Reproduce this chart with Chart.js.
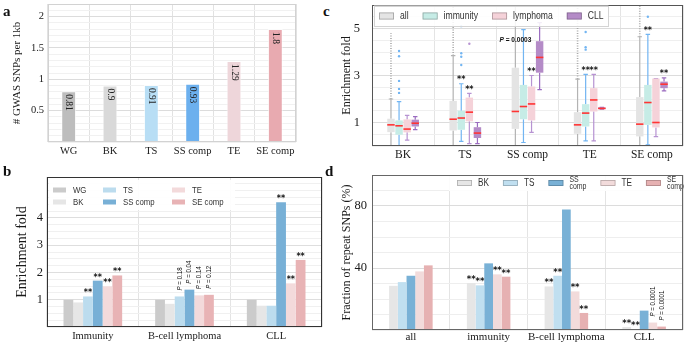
<!DOCTYPE html>
<html>
<head>
<meta charset="utf-8">
<script src="https://cdn.jsdelivr.net/npm/chart.js@4.4.1/dist/chart.umd.min.js"></script>
<style>
html,body{margin:0;padding:0;background:#fff;}
#wrap{position:relative;width:685px;height:343px;overflow:hidden;background:#fff;}
.pane{position:absolute;}
.tag{position:absolute;font-family:"Liberation Serif","Times New Roman",serif;font-weight:bold;font-size:15px;color:#111;line-height:1;}
</style>
</head>
<body>
<div id="wrap">
  <canvas id="ca" class="pane" width="300" height="165" style="left:0;top:0"></canvas>
  <canvas id="cb" class="pane" width="330" height="178" style="left:0;top:165px"></canvas>
  <canvas id="cc" class="pane" width="345" height="165" style="left:340px;top:0"></canvas>
  <canvas id="cd" class="pane" width="345" height="178" style="left:340px;top:165px"></canvas>
  <div class="tag" style="left:3px;top:4px">a</div>
  <div class="tag" style="left:3px;top:164px">b</div>
  <div class="tag" style="left:323px;top:4px">c</div>
  <div class="tag" style="left:325px;top:164px">d</div>
</div>
<script>
// ================= DATA =================
// Panel a
const aCategories = ['WG', 'BK', 'TS', 'SS comp', 'TE', 'SE comp'];
const aValues = [0.81, 0.9, 0.91, 0.93, 1.29, 1.8];
const aValueLabels = ['0.81', '0.9', '0.91', '0.93', '1.29', '1.8'];
const aTicks = [0.5, 1, 1.5, 2];

// Panel b
const bCategories = ['Immunity', 'B-cell lymphoma', 'CLL'];
const bSeries = ['WG', 'BK', 'TS', 'SS comp', 'TE', 'SE comp'];
const bWG = [1.0, 1.0, 1.0];
const bBK = [0.9, 0.85, 0.78];
const bTS = [1.12, 1.12, 0.78];
const bSS = [1.7, 1.37, 4.57];
const bTE = [1.49, 1.16, 1.6];
const bSE = [1.89, 1.18, 2.46];
const bNoteWG = ['', '', ''];
const bNoteBK = ['', '', ''];
const bNoteTS = ['**', 'P = 0.18', ''];
const bNoteSS = ['**', 'P = 0.04', '**'];
const bNoteTE = ['**', 'P = 0.14', '**'];
const bNoteSE = ['**', 'P = 0.12', '**'];
const bTicks = [1, 2, 3, 4];

// Panel c (box plots)
const cCategories = ['BK', 'TS', 'SS comp', 'TE', 'SE comp'];
const cGroups = ['all', 'immunity', 'lymphoma', 'CLL'];
const cAllQ1 = [0.59, 0.66, 0.73, 0.52, 0.41];
const cAllMed = [0.90, 1.14, 1.47, 0.90, 0.93];
const cAllQ3 = [1.16, 1.92, 3.33, 1.44, 2.08];
const cAllLow = [0, 0, 0, 0, 0];
const cAllHigh = [2.0, 3.85, 6.3, 2.85, 4.65];
const cAllOutTop = [4.8, 6.3, null, 6.3, 6.3];
const cAllOut = [[], [], [], [], []];
const cAllNote = ['', '', '', '', ''];
const cImmQ1 = [0.48, 0.69, 1.14, 0.83, 0.90];
const cImmMed = [0.86, 1.19, 1.68, 1.40, 1.85];
const cImmQ3 = [1.09, 1.50, 2.60, 1.78, 2.60];
const cImmLow = [0.0, 0.2, 0.15, 0.22, 0.05];
const cImmHigh = [1.89, 2.65, 4.95, 3.05, 4.75];
const cImmOut = [[2.26, 2.43, 2.77, 3.82, 4.04], [3.45, 3.8, 3.95, 5.1], [], [4.1, 4.2, 4.85], [5.5]];
const cImmNote = ['', '**', '', '**', '**'];
const cLymQ1 = [0.58, 1.05, 1.09, 1.47, 0.79];
const cLymMed = [0.72, 1.44, 1.79, 1.96, 1.0];
const cLymQ3 = [1.13, 2.06, 2.53, 2.46, 2.87];
const cLymLow = [0.25, 0.1, 0.58, 0.22, 0.4];
const cLymHigh = [1.3, 2.24, 3.0, 3.05, 2.87];
const cLymOut = [[], [4.35], [], [], []];
const cLymNote = ['', '**', '**', '**', ''];
const cCllQ1 = [0.83, 0.34, 3.12, 1.57, 2.46];
const cCllMed = [0.97, 0.55, 3.77, 1.60, 2.63];
const cCllQ3 = [1.12, 0.80, 4.46, 1.64, 2.74];
const cCllLow = [0.7, 0.1, 2.4, 1.57, 2.35];
const cCllHigh = [1.25, 1.0, 5.25, 1.64, 2.9];
const cCllOut = [[], [], [], [], []];
const cCllNote = ['', '', '**', '', '**'];
const cPText = 'P = 0.0003';
const cPValueAt = 4.5;
const cTicks = [1, 3, 5];

// Panel d
const dCategories = ['all', 'immunity', 'B-cell lymphoma', 'CLL'];
const dSeries = ['BK', 'TS', 'SS comp', 'TE', 'SE comp'];
const dBK = [28.5, 30.3, 28.1, 1.9];
const dTS = [30.9, 28.8, 35.0, 0.6];
const dSS = [35.0, 43.0, 77.8, 12.5];
const dTE = [37.8, 35.9, 24.9, 4.8];
const dSE = [41.7, 34.4, 11.0, 2.2];
const dNoteBK = ['', '**', '**', '**'];
const dNoteTS = ['', '**', '**', '**'];
const dNoteSS = ['', '', '', ''];
const dNoteTE = ['', '**', '**', 'P = 0.0001'];
const dNoteSE = ['', '**', '**', 'P = 0.0001'];
const dTicks = [40, 80];

// ================= STYLE =================
const SERIF = '"Liberation Serif","Times New Roman",serif';
const SANS = '"Liberation Sans",Arial,sans-serif';
const NS = 0.82; // horizontal condensation of legend / annotation text
const aColors = ['#bdbdbd', '#d9d9d9', '#b8def5', '#6cb0ee', '#eed6da', '#e8aab0'];
const bColors = ['#cbcbcb', '#e6e6e6', '#bcdcee', '#78b0d6', '#f3dadb', '#e8b3b5'];
const cFill = ['#e4e4e4', '#c6ece6', '#f5d2d9', '#b48bc7'];
const cLine = ['#b3b3b3', '#72b5f2', '#b793d2', '#9b6cc0'];
const dColors = ['#e6e6e6', '#c0dff0', '#79b1d6', '#f2dbdb', '#e6b1b2'];

Chart.defaults.font.family = SERIF;
Chart.defaults.color = '#1a1a1a';

function isListed(v, list) { return list.some(t => Math.abs(t - v) < 1e-6); }
function tickLabel(v, list) { return isListed(v, list) ? String(v) : ''; }

function baseOptions(o) {
  return {
    responsive: false, animation: false, devicePixelRatio: 1, events: [],
    layout: { padding: o.pad },
    plugins: { legend: { display: false }, tooltip: { enabled: false } },
    scales: {
      x: {
        grid: { color: o.xGrid, drawTicks: false, offset: true },
        border: { display: false },
        ticks: { font: { family: SERIF, size: o.xFont }, color: '#1a1a1a', padding: o.xPad, maxRotation: 0, minRotation: 0, autoSkip: false },
        afterFit: s => { s.height = o.xH; }
      },
      y: {
        min: 0, max: o.max,
        grid: { color: c => (c.tick && isListed(c.tick.value, o.ticks)) ? o.major : o.minor, drawTicks: true, tickLength: o.yGap, tickColor: 'rgba(0,0,0,0)' },
        border: { display: false },
        ticks: { stepSize: o.step, autoSkip: false, callback: v => tickLabel(v, o.ticks), font: { family: SERIF, size: o.yFont, lineHeight: 0.1 }, color: '#1a1a1a', padding: 1 },
        title: { display: true, text: o.title, font: { family: SERIF, size: o.tFont }, color: '#1a1a1a', padding: { top: o.tPad, bottom: 0 } },
        afterFit: s => { s.width = o.yW; }
      }
    }
  };
}

// condensed sans text helpers
function nFont(size, style) { return (style ? style + ' ' : '') + size + 'px ' + SANS; }
function nWidth(ctx, text, font) { ctx.font = font; return ctx.measureText(text).width * NS; }
function nFill(ctx, text, x, y, font) {
  ctx.save(); ctx.font = font; ctx.translate(x, y); ctx.scale(NS, 1); ctx.fillText(text, 0, 0); ctx.restore();
}

function drawFrame(chart, color) {
  const a = chart.chartArea, ctx = chart.ctx;
  ctx.save(); ctx.strokeStyle = color; ctx.lineWidth = 1;
  const l = Math.round(a.left) + 0.5, t = Math.round(a.top) + 0.5, r = Math.round(a.right) - 0.5, b = Math.round(a.bottom) - 0.5;
  ctx.strokeRect(l, t, r - l, b - t); ctx.restore();
}
function drawStars(ctx, t, x, y, size) {
  ctx.save(); ctx.font = 'bold ' + size + 'px "DejaVu Sans",sans-serif'; ctx.fillStyle = '#111';
  ctx.textAlign = 'center'; ctx.textBaseline = 'alphabetic'; ctx.fillText(t, x, y); ctx.restore();
}
function drawPText(ctx, text, x, y, size, rotated, bold) {
  const rest = text.slice(1);
  ctx.save();
  ctx.translate(x, y);
  if (rotated) ctx.rotate(-Math.PI / 2);
  ctx.fillStyle = '#111'; ctx.textBaseline = 'middle'; ctx.textAlign = 'left';
  const pf = nFont(size, bold ? 'italic bold' : 'italic'), rf = nFont(size, bold ? 'bold' : '');
  const pw = nWidth(ctx, 'P', pf), rw = nWidth(ctx, rest, rf);
  const start = rotated ? 0 : -(pw + rw) / 2;
  nFill(ctx, 'P', start, 0, pf);
  nFill(ctx, rest, start + pw, 0, rf);
  ctx.restore();
}
function drawBarNotes(chart, notes, starSize, pSize) {
  const ctx = chart.ctx;
  notes.forEach((arr, di) => {
    const meta = chart.getDatasetMeta(di);
    arr.forEach((t, j) => {
      if (!t) return;
      const el = meta.data[j];
      if (t.charAt(0) === 'P') drawPText(ctx, t, el.x, el.y - 6, pSize, true, false);
      else drawStars(ctx, t, el.x, el.y - 1, starSize);
    });
  });
}
function swatch(ctx, x, y, w, h, fill, stroke) {
  ctx.fillStyle = fill; ctx.fillRect(x, y - h / 2, w, h);
  if (stroke) { ctx.strokeStyle = stroke; ctx.lineWidth = 0.8; ctx.strokeRect(x + 0.4, y - h / 2 + 0.4, w - 0.8, h - 0.8); }
}
// grid legend (column-major)
function drawGridLegend(chart, o) {
  const ctx = chart.ctx, a = chart.chartArea;
  ctx.save();
  if (o.bg) { ctx.fillStyle = 'rgba(255,255,255,0.9)'; ctx.fillRect(a.left + o.bg[0], a.top + o.bg[1], o.bg[2], o.bg[3]); }
  ctx.textBaseline = 'middle'; ctx.textAlign = 'left';
  chart.data.datasets.forEach((ds, i) => {
    const c = Math.floor(i / o.rows), r = i % o.rows;
    const x = a.left + o.colX[c], y = a.top + o.rowY[r];
    swatch(ctx, x, y, o.sw, o.sh, ds.backgroundColor, o.stroke);
    ctx.fillStyle = '#333'; nFill(ctx, ds.label, x + o.sw + o.gap, y, nFont(o.size));
  });
  ctx.restore();
}
// single-row legend
function drawRowLegend(chart, o) {
  const ctx = chart.ctx, a = chart.chartArea;
  ctx.save();
  ctx.textBaseline = 'middle'; ctx.textAlign = 'left';
  const items = chart.data.datasets.map(ds => {
    const lines = (o.split && ds.label.indexOf(' ') > 0) ? ds.label.split(' ') : [ds.label];
    const font = nFont(lines.length > 1 ? o.size2 : o.size);
    const w = Math.max(...lines.map(l => nWidth(ctx, l, font)));
    return { lines, font, w, fill: ds.backgroundColor };
  });
  const x0 = a.left + o.x0, y = a.top + o.y0;
  let total = 0;
  items.forEach((it, i) => { total += o.sw + o.gap + it.w + (i < items.length - 1 ? o.itemGap : 0); });
  if (o.bg) {
    const bx = x0 - o.bgPad, bw = Math.min(total + 2 * o.bgPad, a.right - bx - 1);
    ctx.fillStyle = 'rgba(255,255,255,0.88)';
    ctx.fillRect(bx, y - o.bgH / 2, bw, o.bgH);
    if (o.bgStroke) { ctx.strokeStyle = o.bgStroke; ctx.lineWidth = 1; ctx.strokeRect(Math.round(bx) + 0.5, Math.round(y - o.bgH / 2) + 0.5, Math.round(bw) - 1, o.bgH - 1); }
  }
  let x = x0;
  items.forEach(it => {
    swatch(ctx, x, y, o.sw, o.sh, it.fill, o.stroke);
    ctx.fillStyle = '#333';
    const n = it.lines.length;
    it.lines.forEach((l, k) => nFill(ctx, l, x + o.sw + o.gap, y + (k - (n - 1) / 2) * o.lh, it.font));
    x += o.sw + o.gap + it.w + o.itemGap;
  });
  ctx.restore();
}

// ================= PANEL A =================
const aOpts = baseOptions({ pad: { top: 4, right: 4, left: 0, bottom: 0 }, xGrid: '#e2e2e2', xFont: 10.5, xPad: 3, xH: 23,
  max: 2.2, step: 0.1, ticks: aTicks, major: '#dcdcdc', minor: '#f1f1f1', yGap: 3, yFont: 10.5,
  title: '# GWAS SNPs per 1kb', tFont: 11, tPad: 11, yW: 48 });
new Chart(document.getElementById('ca'), {
  type: 'bar',
  data: { labels: aCategories, datasets: [{ label: 'GWAS SNPs per 1kb', data: aValues, backgroundColor: aColors,
    borderColor: 'rgba(255,255,255,0.7)', borderWidth: 1, barPercentage: 0.36, categoryPercentage: 1 }] },
  options: aOpts,
  plugins: [{
    id: 'aDecor',
    afterDatasetsDraw(chart) {
      const ctx = chart.ctx, meta = chart.getDatasetMeta(0);
      ctx.save();
      ctx.font = '9.5px ' + SERIF; ctx.fillStyle = '#222'; ctx.textAlign = 'left'; ctx.textBaseline = 'middle';
      meta.data.forEach((el, j) => {
        ctx.save(); ctx.translate(el.x, el.y + 3); ctx.rotate(Math.PI / 2);
        ctx.fillText(aValueLabels[j], 0, 0); ctx.restore();
      });
      ctx.restore();
      drawFrame(chart, '#d2d2d2');
    }
  }]
});

// ================= PANEL B =================
const bOpts = baseOptions({ pad: { top: 12, right: 8, left: 0, bottom: 0 }, xGrid: '#e4e4e4', xFont: 10.5, xPad: 3, xH: 16,
  max: 5.5, step: 0.25, ticks: bTicks, major: '#dedede', minor: '#f0f0f0', yGap: 3, yFont: 12.5,
  title: 'Enrichment fold', tFont: 14, tPad: 14, yW: 47 });
const bData = [bWG, bBK, bTS, bSS, bTE, bSE];
new Chart(document.getElementById('cb'), {
  type: 'bar',
  data: { labels: bCategories, datasets: bSeries.map((s, i) => ({ label: s, data: bData[i], backgroundColor: bColors[i],
    borderWidth: 0, barPercentage: 1, categoryPercentage: 0.64 })) },
  options: bOpts,
  plugins: [{
    id: 'bDecor',
    afterDatasetsDraw(chart) {
      drawBarNotes(chart, [bNoteWG, bNoteBK, bNoteTS, bNoteSS, bNoteTE, bNoteSE], 8, 7.5);
      drawGridLegend(chart, { bg: [2, 3, 186, 30], rows: 2, colX: [6, 56, 125], rowY: [13, 25], sw: 13, sh: 5, gap: 7, size: 9.5 });
      drawFrame(chart, '#333');
    }
  }]
});

// ================= PANEL C =================
const cStats = [
  { q1: cAllQ1, med: cAllMed, q3: cAllQ3, lo: cAllLow, hi: cAllHigh, out: cAllOut, top: cAllOutTop, note: cAllNote },
  { q1: cImmQ1, med: cImmMed, q3: cImmQ3, lo: cImmLow, hi: cImmHigh, out: cImmOut, top: null, note: cImmNote },
  { q1: cLymQ1, med: cLymMed, q3: cLymQ3, lo: cLymLow, hi: cLymHigh, out: cLymOut, top: null, note: cLymNote },
  { q1: cCllQ1, med: cCllMed, q3: cCllQ3, lo: cCllLow, hi: cCllHigh, out: cCllOut, top: null, note: cCllNote }
];
const cOpts = baseOptions({ pad: { top: 5, right: 2, left: 0, bottom: 0 }, xGrid: '#e4e4e4', xFont: 11.5, xPad: 2, xH: 19,
  max: 6, step: 0.5, ticks: cTicks, major: '#dcdcdc', minor: '#efefef', yGap: 11, yFont: 12.5,
  title: 'Enrichment fold', tFont: 12, tPad: 0, yW: 32 });
new Chart(document.getElementById('cc'), {
  type: 'bar',
  data: { labels: cCategories, datasets: cGroups.map((g, i) => ({ label: g,
    data: cStats[i].q1.map((v, j) => [v, cStats[i].q3[j]]), backgroundColor: cFill[i], borderWidth: 0, borderSkipped: false,
    barPercentage: 0.92, categoryPercentage: 0.52 })) },
  options: cOpts,
  plugins: [{
    id: 'cBox',
    beforeDatasetsDraw(chart) {
      const ctx = chart.ctx, a = chart.chartArea, y = chart.scales.y;
      ctx.save();
      ctx.beginPath(); ctx.rect(a.left, a.top, a.right - a.left, a.bottom - a.top); ctx.clip();
      cStats.forEach((st, di) => {
        const meta = chart.getDatasetMeta(di);
        meta.data.forEach((el, j) => {
          const x = el.x, cw = el.width * 0.3;
          if (st.top && st.top[j] != null) {
            ctx.strokeStyle = '#a9a9a9'; ctx.lineWidth = 1.6; ctx.setLineDash([1, 1.5]);
            ctx.beginPath(); ctx.moveTo(x, y.getPixelForValue(st.hi[j])); ctx.lineTo(x, y.getPixelForValue(st.top[j])); ctx.stroke();
          }
          ctx.setLineDash([]);
          ctx.strokeStyle = cLine[di]; ctx.lineWidth = 1.2;
          ctx.beginPath();
          ctx.moveTo(x, y.getPixelForValue(st.lo[j])); ctx.lineTo(x, y.getPixelForValue(st.q1[j]));
          ctx.moveTo(x, y.getPixelForValue(st.q3[j])); ctx.lineTo(x, y.getPixelForValue(st.hi[j]));
          [st.lo[j], st.hi[j]].forEach(v => { const py = y.getPixelForValue(v); ctx.moveTo(x - cw, py); ctx.lineTo(x + cw, py); });
          ctx.stroke();
          ctx.fillStyle = cLine[di];
          st.out[j].forEach(v => { ctx.beginPath(); ctx.arc(x, y.getPixelForValue(v), 1.2, 0, Math.PI * 2); ctx.fill(); });
        });
      });
      ctx.restore();
    },
    afterDatasetsDraw(chart) {
      const ctx = chart.ctx, y = chart.scales.y;
      ctx.save();
      ctx.strokeStyle = '#ff3434'; ctx.lineWidth = 1.6;
      cStats.forEach((st, di) => {
        chart.getDatasetMeta(di).data.forEach((el, j) => {
          const py = y.getPixelForValue(st.med[j]);
          ctx.beginPath(); ctx.moveTo(el.x - el.width / 2, py); ctx.lineTo(el.x + el.width / 2, py); ctx.stroke();
        });
      });
      ctx.restore();
      cStats.forEach((st, di) => {
        chart.getDatasetMeta(di).data.forEach((el, j) => {
          if (st.note[j]) drawStars(ctx, st.note[j], el.x, y.getPixelForValue(st.hi[j]) - 1.5, 8);
        });
      });
      const ssAll = chart.getDatasetMeta(0).data[2], ssImm = chart.getDatasetMeta(1).data[2];
      drawPText(ctx, cPText, (ssAll.x + ssImm.x) / 2 - 4, y.getPixelForValue(cPValueAt), 8, false, true);
      drawFrame(chart, '#555');
      drawRowLegend(chart, { x0: 7, y0: 11, sw: 15, sh: 7, gap: 6, itemGap: 14, size: 10.5, size2: 10.5, lh: 8,
        stroke: 'rgba(0,0,0,0.3)', bg: true, bgPad: 5, bgH: 21, bgStroke: '#d4d4d4' });
    }
  }]
});

// ================= PANEL D =================
const dOpts = baseOptions({ pad: { top: 10, right: 2, left: 0, bottom: 0 }, xGrid: '#e4e4e4', xFont: 11, xPad: 1, xH: 13,
  max: 100, step: 10, ticks: dTicks, major: '#dcdcdc', minor: '#eeeeee', yGap: 4, yFont: 12.5,
  title: 'Fraction of repeat SNPs (%)', tFont: 12, tPad: 0, yW: 32 });
const dData = [dBK, dTS, dSS, dTE, dSE];
new Chart(document.getElementById('cd'), {
  type: 'bar',
  data: { labels: dCategories, datasets: dSeries.map((s, i) => ({ label: s, data: dData[i], backgroundColor: dColors[i],
    borderWidth: 0, barPercentage: 1, categoryPercentage: 0.56 })) },
  options: dOpts,
  plugins: [{
    id: 'dDecor',
    afterDatasetsDraw(chart) {
      drawBarNotes(chart, [dNoteBK, dNoteTS, dNoteSS, dNoteTE, dNoteSE], 8.5, 7.5);
      drawRowLegend(chart, { x0: 85, y0: 8, sw: 15, sh: 6, gap: 6, itemGap: 14, size: 10, size2: 8.5, lh: 7,
        stroke: 'rgba(0,0,0,0.25)', bg: true, bgPad: 8, bgH: 16, bgStroke: null, split: true });
      drawFrame(chart, '#666');
    }
  }]
});
</script>
</body>
</html>
